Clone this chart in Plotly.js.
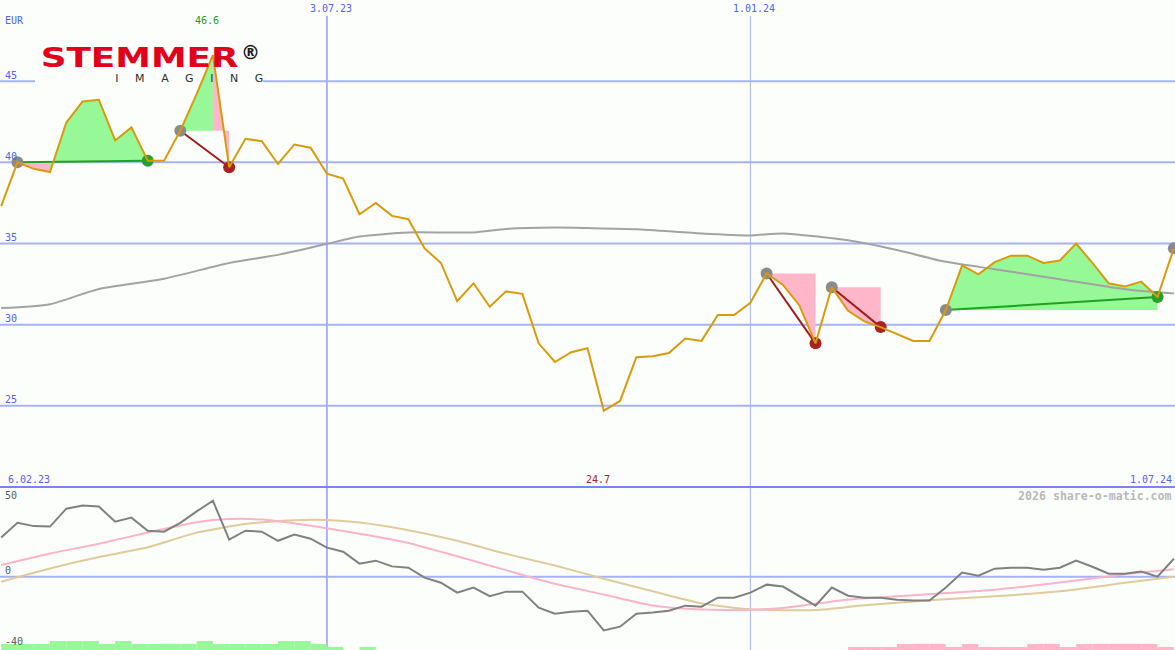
<!DOCTYPE html>
<html>
<head>
<meta charset="utf-8">
<script src="https://cdn.plot.ly/plotly-3.0.1.min.js"></script>
<style>
  html, body { margin: 0; padding: 0; background: #fcfefc; }
  #chart { width: 1175px; height: 650px; }
</style>
</head>
<body>
<div id="chart"></div>
<script>
// ---------- DATA ----------
const startMonday = '2023-02-13';   // first weekly point
const price = [37.3, 40.0, 39.6, 39.4, 42.45, 43.75, 43.85, 41.35, 42.15, 40.1,
  40.1, 41.95, 44.2, 46.6, 39.7, 41.45, 41.3, 39.9, 41.1, 40.9,
  39.3, 39.0, 36.8, 37.5, 36.7, 36.5, 34.7, 33.8, 31.45, 32.55,
  31.1, 32.05, 31.9, 28.85, 27.7, 28.3, 28.55, 24.7, 25.3, 28.0,
  28.05, 28.25, 29.15, 29.0, 30.6, 30.6, 31.35, 33.15, 32.45, 31.2,
  28.85, 32.3, 30.85, 30.2, 29.85, 29.45, 29.0, 29.0, 30.9, 33.65,
  33.1, 33.85, 34.25, 34.25, 33.8, 33.95, 35.0, 33.8, 32.55, 32.35,
  32.65, 31.7, 34.7];

// long moving average (grey line, upper panel) at selected weeks
const maWeek = [0, 3, 6, 10, 14, 17, 20, 22, 25, 29, 31, 34, 36, 39, 43, 46, 48, 52, 55, 58, 61, 65, 69, 72];
const maVal  = [31.02, 31.26, 32.2, 32.83, 33.8, 34.3, 34.98, 35.43, 35.68, 35.68, 35.9, 35.98, 35.95, 35.88, 35.62, 35.5, 35.62, 35.2, 34.6, 33.87, 33.42, 32.8, 32.18, 31.92];

// lower panel oscillator (grey)
const osc = [24, 33, 31, 30.7, 41.7, 43.6, 43, 33.7, 36.2, 28.2,
  27.6, 33, 40, 46.6, 22.7, 28.2, 27.6, 22, 25.8, 23.3,
  17.8, 15.3, 8, 9.8, 6.3, 5.5, -0.6, -3.7, -9.8, -6.7,
  -12, -9.2, -9.2, -19, -22.7, -21.5, -20.9, -33, -30.7, -22.7,
  -22, -20.9, -17.8, -18.4, -12.9, -12.9, -9.8, -4.9, -6.1, -11.7,
  -17.8, -6.7, -11.7, -12.9, -12.9, -14.1, -14.7, -14.7, -6.7, 2.5,
  0.6, 4.9, 5.5, 5.5, 4.3, 5.5, 9.8, 6.1, 1.8, 1.8,
  3.1, 0, 11];

// lower panel smooth lines
const pinkWeek = [0, 3, 6, 9, 12, 14, 16, 19, 22, 25, 28, 31, 34, 37, 40, 43, 46, 48, 52, 55, 58, 61, 65, 69, 72];
const pinkVal  = [7.1, 14.2, 20.2, 27.1, 33.4, 35.3, 35, 31.2, 26.3, 20.7, 12.5, 4, -4.4, -11, -17.7, -20.2, -20.3, -19.2, -14, -12, -10.1, -8, -3.6, 1.5, 4.5];
const tanWeek  = [0, 3, 6, 9, 12, 15, 18, 20, 22, 25, 28, 31, 34, 37, 40, 43, 46, 50, 53, 57, 61, 65, 69, 72];
const tanVal   = [-3.1, 5, 12, 18, 27, 32.3, 34.6, 34.7, 33.2, 28.5, 22, 14, 6.8, -1.3, -9, -16.4, -20, -20.5, -17.6, -14.5, -12.1, -9, -3.8, 0];

// bottom strength bars (levels)
const upBars = [2,2,2,3,3,3,2,3,2,2, 2,2,3,2,2,2,2,3,3,2, 1,0,1,0,0,0,0,0,0,0,
  0,0,0,0,0,0,0,0,0,0, 0,0,0,0,0,0,0,0,0,0, 0,0,0,0,0,0,0,0,0,0,
  0,0,0,0,0,0,0,0,0,0, 0,0,0];
const downBars = [0,0,0,0,0,0,0,0,0,0, 0,0,0,0,0,0,0,0,0,0, 0,0,0,0,0,0,0,0,0,0,
  0,0,0,0,0,0,0,0,0,0, 0,0,0,0,0,0,0,0,0,0, 0,0,1,1,1,2,2,2,1,2,
  1,1,1,2,2,1,2,2,2,2, 2,1,0];

// trade signals (week indices)
const sigEntry = [1, 11, 47, 51, 58];
const sigExit  = [9, 14, 50, 54, 71];
const openEntry = [72];

// labels
const dateLabels = ['6.02.23', '3.07.23', '1.01.24', '1.07.24'];
const priceTicks = [25, 30, 35, 40, 45];
const oscTicks = [50, 0, -40];

// ---------- BUILD ----------
function addDays(iso, n) {
  const d = new Date(iso + 'T00:00:00Z');
  d.setUTCDate(d.getUTCDate() + n);
  return d.toISOString().slice(0, 10);
}
const dates = price.map((_, i) => addDays(startMonday, 7 * i));
const W = 1175, H = 650;
const px = v => v / W;
const py = v => 1 - v / H;

const C = {
  bg: '#fcfefc', grid: '#a6b2f4', sep: '#7884f0', label: '#5262f2',
  price: '#d99a0c', ma: '#a3a3a3', osc: '#808080', pink: '#fbb3c8', tan: '#e2cb9b',
  fillUp: '#96f896', fillDn: '#ffb6c9', upLine: '#22a022', dnLine: '#a31c1c',
  dotGrey: '#8a8a8a', dotUp: '#28a028', dotDn: '#a82222'
};

// fills per weekly segment of each signal
const gx = [], gy = [], rx = [], ry = [];
const ugx = [], ugy = [], drx = [], dry = [];
sigEntry.forEach((e, s) => {
  const x1 = sigExit[s], lvl = price[e];
  for (let k = e; k < x1; k++) {
    const up = price[k + 1] >= lvl;
    const X = up ? gx : rx, Y = up ? gy : ry;
    X.push(dates[k], dates[k + 1], dates[k + 1], dates[k], null);
    Y.push(price[k], price[k + 1], lvl, lvl, null);
  }
  const win = price[x1] >= lvl;
  const LX = win ? ugx : drx, LY = win ? ugy : dry;
  LX.push(dates[e], dates[x1], null);
  LY.push(price[e], price[x1], null);
});

const entryIdx = sigEntry.concat(openEntry);
const winIdx = sigExit.filter((x, s) => price[x] >= price[sigEntry[s]]);
const lossIdx = sigExit.filter((x, s) => price[x] < price[sigEntry[s]]);

const weekMs = 7 * 86400000;

const traces = [
  // lower panel bars
  { type: 'bar', x: dates, y: upBars, xaxis: 'x', yaxis: 'y3', marker: { color: C.fillUp, line: { width: 0 } },
    width: weekMs, offset: 0 },
  { type: 'bar', x: dates, y: downBars, xaxis: 'x', yaxis: 'y3', marker: { color: C.fillDn, line: { width: 0 } },
    width: weekMs, offset: 0 },
  // lower panel lines
  { type: 'scatter', mode: 'lines', x: tanWeek.map(i => dates[i]), y: tanVal, xaxis: 'x', yaxis: 'y2',
    line: { color: C.tan, width: 2, shape: 'spline', smoothing: 0.6 } },
  { type: 'scatter', mode: 'lines', x: pinkWeek.map(i => dates[i]), y: pinkVal, xaxis: 'x', yaxis: 'y2',
    line: { color: C.pink, width: 2, shape: 'spline', smoothing: 0.6 } },
  { type: 'scatter', mode: 'lines', x: dates, y: osc, xaxis: 'x', yaxis: 'y2',
    line: { color: C.osc, width: 2 } },
  // upper panel fills
  { type: 'scatter', mode: 'none', x: gx, y: gy, fill: 'toself', fillcolor: C.fillUp, xaxis: 'x', yaxis: 'y' },
  { type: 'scatter', mode: 'none', x: rx, y: ry, fill: 'toself', fillcolor: C.fillDn, xaxis: 'x', yaxis: 'y' },
  // moving average
  { type: 'scatter', mode: 'lines', x: maWeek.map(i => dates[i]), y: maVal, xaxis: 'x', yaxis: 'y',
    line: { color: C.ma, width: 2, shape: 'spline', smoothing: 0.6 } },
  // signal connectors
  { type: 'scatter', mode: 'lines', x: ugx, y: ugy, xaxis: 'x', yaxis: 'y', line: { color: C.upLine, width: 2 } },
  { type: 'scatter', mode: 'lines', x: drx, y: dry, xaxis: 'x', yaxis: 'y', line: { color: C.dnLine, width: 2 } },
  // dots
  { type: 'scatter', mode: 'markers', x: entryIdx.map(i => dates[i]), y: entryIdx.map(i => price[i]),
    xaxis: 'x', yaxis: 'y', marker: { color: C.dotGrey, size: 12 } },
  { type: 'scatter', mode: 'markers', x: winIdx.map(i => dates[i]), y: winIdx.map(i => price[i]),
    xaxis: 'x', yaxis: 'y', marker: { color: C.dotUp, size: 12 } },
  { type: 'scatter', mode: 'markers', x: lossIdx.map(i => dates[i]), y: lossIdx.map(i => price[i]),
    xaxis: 'x', yaxis: 'y', marker: { color: C.dotDn, size: 12 } },
  // price
  { type: 'scatter', mode: 'lines', x: dates, y: price, xaxis: 'x', yaxis: 'y',
    line: { color: C.price, width: 2 } }
];

const splitY = py(487);

const shapes = [];
priceTicks.forEach(v => shapes.push({ type: 'line', layer: 'below', xref: 'paper', x0: 0, x1: 1, yref: 'y', y0: v, y1: v,
  line: { color: C.grid, width: 2 } }));
shapes.push({ type: 'line', layer: 'below', xref: 'paper', x0: 0, x1: 1, yref: 'y2', y0: 0, y1: 0, line: { color: C.grid, width: 2 } });
shapes.push({ type: 'line', layer: 'below', xref: 'x', x0: '2023-07-03', x1: '2023-07-03', yref: 'paper', y0: 0, y1: py(16),
  line: { color: C.grid, width: 2 } });
shapes.push({ type: 'line', layer: 'below', xref: 'x', x0: '2024-01-01', x1: '2024-01-01', yref: 'paper', y0: 0, y1: py(16),
  line: { color: C.grid, width: 1 } });
shapes.push({ type: 'line', layer: 'below', xref: 'paper', x0: 0, x1: 1, yref: 'paper', y0: splitY, y1: splitY,
  line: { color: C.sep, width: 2 } });
// logo backing
shapes.push({ type: 'rect', layer: 'below', xref: 'paper', yref: 'paper', x0: px(35), x1: px(263), y0: py(90), y1: py(38),
  fillcolor: C.bg, line: { width: 0 } });

const mono = 'DejaVu Sans Mono, monospace';
function lab(text, x, y, anchor, color, size, extra) {
  return Object.assign({ text, x: px(x), y: py(y), xref: 'paper', yref: 'paper', xanchor: anchor, yanchor: 'middle',
    showarrow: false, borderpad: 0, font: { family: mono, size: size || 10, color } }, extra || {});
}
const ann = [
  lab('EUR', 4, 20, 'left', C.label),
  lab(String(price[13].toFixed(1)), 207, 21, 'center', '#1f9a1f'),
  lab(dateLabels[1], 331, 9, 'center', C.label),
  lab(dateLabels[2], 754, 9, 'center', C.label),
  lab(dateLabels[0], 7, 479, 'left', C.label),
  lab(dateLabels[3], 1173, 479, 'right', C.label),
  lab(String(Math.min(...price).toFixed(1)), 598, 479, 'center', '#a41e1e'),
  lab('2026 share-o-matic.com', 1173, 496, 'right', '#b9b9b9', 11.6, { font: { family: mono, size: 11.6, color: '#b9b9b9', weight: 'bold' } })
];
priceTicks.forEach(v => {
  const yPix = (50 - v) / 30 * 487 - 6;
  ann.push(lab(String(v), 4, yPix, 'left', C.label));
});
oscTicks.forEach(v => {
  let yPix = 650 - (v + 45) / 100 * 163;
  if (v === 0) yPix -= 6;
  ann.push(lab(String(v), 4, yPix, 'left', '#5a5a5a'));
});
// logo text
ann.push({ text: 'STEMMER', x: px(139), y: py(58), xref: 'paper', yref: 'paper', xanchor: 'center', yanchor: 'middle',
  showarrow: false, borderpad: 0, font: { family: 'DejaVu Sans, sans-serif', size: 27, color: '#e2001a', weight: 'bold' } });
ann.push({ text: '®', x: px(250), y: py(52), xref: 'paper', yref: 'paper', xanchor: 'center', yanchor: 'middle',
  showarrow: false, borderpad: 0, font: { family: 'DejaVu Sans, sans-serif', size: 19, color: '#1a1a1a', weight: 'bold' } });
ann.push({ text: 'IMAGING', x: px(189), y: py(78), xref: 'paper', yref: 'paper', xanchor: 'center', yanchor: 'middle',
  showarrow: false, borderpad: 0, font: { family: 'DejaVu Sans, sans-serif', size: 11, color: '#2e2e2e' } });

const layout = {
  width: W, height: H, margin: { l: 0, r: 0, t: 0, b: 0 },
  paper_bgcolor: C.bg, plot_bgcolor: C.bg, showlegend: false, hovermode: false, barmode: 'overlay',
  xaxis: { type: 'date', range: ['2023-02-12 12:00', '2024-07-01 12:00'], visible: false, fixedrange: true },
  yaxis: { domain: [splitY, 1], range: [20, 50], visible: false, fixedrange: true },
  yaxis2: { domain: [0, splitY], range: [-45, 55], visible: false, fixedrange: true },
  yaxis3: { overlaying: 'y2', range: [0, 163 / 3], visible: false, fixedrange: true },
  shapes, annotations: ann
};

Plotly.newPlot('chart', traces, layout, { staticPlot: true, displayModeBar: false }).then(() => {
  document.querySelectorAll('text.annotation-text').forEach(t => {
    if (t.textContent === 'STEMMER') { t.setAttribute('textLength', '198'); t.setAttribute('lengthAdjust', 'spacingAndGlyphs'); }
    if (t.textContent === 'IMAGING') { t.setAttribute('textLength', '148'); t.setAttribute('lengthAdjust', 'spacing'); }
  });
});
</script>
</body>
</html>
